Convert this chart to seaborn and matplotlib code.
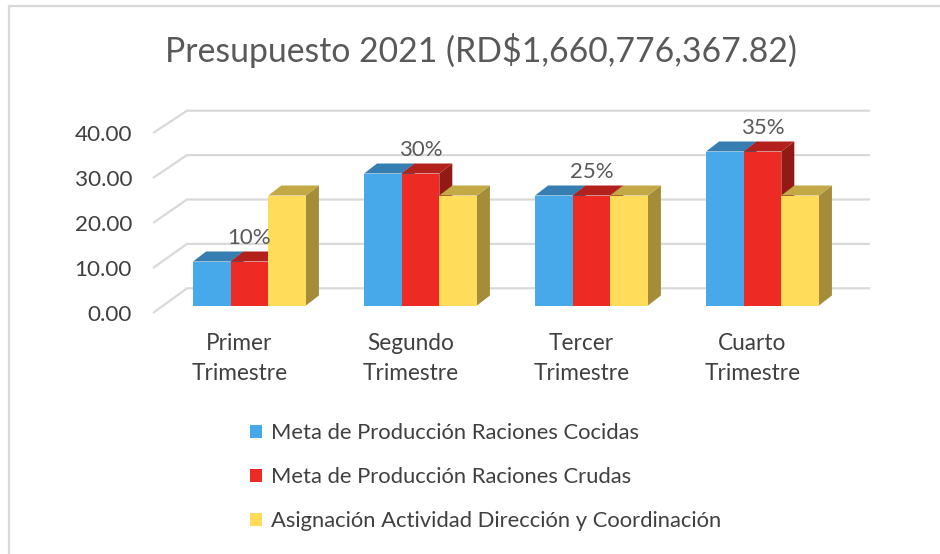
import numpy as np
import pandas as pd
import seaborn as sns
import matplotlib.pyplot as plt
from matplotlib.patches import Polygon, Rectangle

# ---- data ----
trimestres = ["Primer\nTrimestre", "Segundo\nTrimestre", "Tercer\nTrimestre", "Cuarto\nTrimestre"]
series = ["Meta de Producción Raciones Cocidas",
          "Meta de Producción Raciones Crudas",
          "Asignación Actividad Dirección y Coordinación"]
cocidas = [10, 30, 25, 35]
crudas = [10, 30, 25, 35]
asignacion = [25, 25, 25, 25]
pct_labels = ["10%", "30%", "25%", "35%"]
yticks_vals = [0, 10, 20, 30, 40]
title = "Presupuesto 2021 (RD$1,660,776,367.82)"

front_colors = ["#47A9EA", "#EE2A24", "#FFDC59"]
top_colors = ["#367EB1", "#B4201C", "#C2A945"]
side_colors = ["#2C6A96", "#931915", "#A48C38"]

df = pd.DataFrame({
    "trimestre": trimestres * 3,
    "serie": sum([[s] * 4 for s in series], []),
    "valor": cocidas + crudas + asignacion,
})

sns.set_theme(style="white")
plt.rcParams["font.family"] = ["Lato", "DejaVu Sans"]
TXT = "#595959"
DARK = "#404040"

W, H = 940, 554
fig = plt.figure(figsize=(W / 100, H / 100), dpi=100)

# axes box in pixels
L, R, T, B = 150, 880, 95, 320
ax = fig.add_axes([L / W, 1 - B / H, (R - L) / W, (B - T) / H])

# pixel mapping: x px = 249.5 + 171*x ; y px = 305.5 - 4.4*y
XC, XS = 249.5, 171.0
YC, YS = 305.5, 4.4

sns.barplot(data=df, x="trimestre", y="valor", hue="serie", order=trimestres,
            hue_order=series, palette=front_colors, width=0.66, ax=ax,
            saturation=1, linewidth=0, legend=True)

ax.set_xlim((L - XC) / XS, (R - XC) / XS)
ax.set_ylim((YC - B) / YS, (YC - T) / YS)

# back wall gridlines with floor diagonals
wall_dx = 34 / XS
front_x = (153 - XC) / XS
back_x_end = (870 - XC) / XS
def front_y(v):
    return (YC - (313 - 4.5 * v)) / YS
def back_y(v):
    return (YC - (288.3 - 4.44 * v)) / YS
for v in yticks_vals:
    ax.plot([front_x, front_x + wall_dx, back_x_end], [front_y(v), back_y(v), back_y(v)],
            color="#D9D9D9", lw=1.6, zorder=1, solid_capstyle="butt")

# 3D faces for bars
bdx = 13 / XS
bdy = 10 / YS
bars = []
for si, cont in enumerate(ax.containers):
    for p in cont.patches:
        bars.append((p.get_x(), si, p))
bars.sort(key=lambda t: t[0])
for k, (_, si, p) in enumerate(bars):
    x0, w, h = p.get_x(), p.get_width(), p.get_height()
    z = 2 + k * 0.01
    top = Polygon([(x0, h), (x0 + w, h), (x0 + w + bdx, h + bdy), (x0 + bdx, h + bdy)],
                  closed=True, fc=top_colors[si], ec="none", zorder=z)
    side = Polygon([(x0 + w, 0), (x0 + w, h), (x0 + w + bdx, h + bdy), (x0 + w + bdx, bdy)],
                   closed=True, fc=side_colors[si], ec="none", zorder=z)
    ax.add_patch(side)
    ax.add_patch(top)
    p.set_zorder(z + 0.005)

# percentage labels above groups
for i, (lab, v) in enumerate(zip(pct_labels, crudas)):
    ax.text(i, v + 24 / YS, lab, ha="center", va="center", fontsize=16, color=TXT)

# y tick labels at front plane
ax.set_yticks([front_y(v) for v in yticks_vals])
ax.set_yticklabels([f"{v:.2f}" for v in yticks_vals], fontsize=16.2, color=DARK)
ax.tick_params(axis="y", length=0, pad=(L - 132) * 0.72)

# category labels
ax.set_xticks([i - 10 / XS for i in range(len(trimestres))])
ax.set_xticklabels(trimestres, fontsize=16.3, color=DARK, linespacing=1.5)
ax.tick_params(axis="x", length=0, pad=(333 - B) * 0.72)
ax.set_xlabel("")
ax.set_ylabel("")
for s in ax.spines.values():
    s.set_visible(False)
ax.grid(False)

# legend
handles, labels = ax.get_legend_handles_labels()
ax.get_legend().remove()
fig.legend(handles, labels, loc="upper left", bbox_to_anchor=(250 / W, 1 - 423 / H),
           frameon=False, ncol=1, fontsize=15.8, labelcolor=DARK,
           handlelength=0.55, handleheight=0.55, handletextpad=0.4, labelspacing=1.1,
           borderaxespad=0, borderpad=0)

fig.text(481 / W, 1 - 50 / H, title, ha="center", va="center", fontsize=24.3, color=TXT)

# chart border
fig.patches.append(Rectangle((8.5 / W, -0.1), 1.2, 1 - 5.5 / H + 0.1, transform=fig.transFigure,
                             fill=False, ec="#D9D9D9", lw=1.6))

fig.savefig("out.png", dpi=100)
